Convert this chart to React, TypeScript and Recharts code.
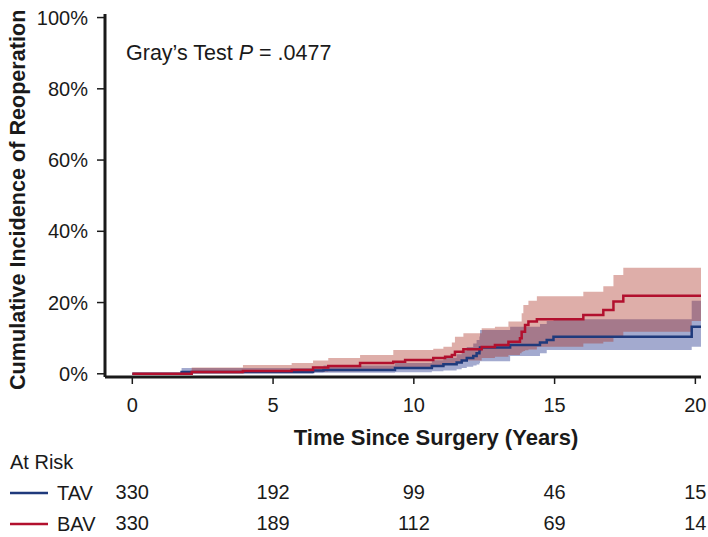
import React from 'react';
import { ComposedChart, Area, Line, XAxis, YAxis } from 'recharts';

// axis ticks
const xTicks = [0, 5, 10, 15, 20];
const yTicks = [0, 20, 40, 60, 80, 100];

// numbers at risk, one per x tick
const tavAtRisk = [330, 192, 99, 46, 15];
const bavAtRisk = [330, 189, 112, 69, 14];

// TAV cumulative incidence (%), step times in years
const tavTime = [0, 1.75, 6.42, 6.79, 9.33, 10.64, 11.05, 11.52, 11.7, 11.88, 12.11, 12.23, 12.33, 12.35, 13.42, 14.48, 14.72, 14.96, 19.87, 20.2];
const tavEst = [0, 0.5, 0.9, 1.1, 1.6, 2.2, 2.7, 3.2, 3.7, 4.4, 5.0, 5.8, 6.7, 7.4, 8.1, 8.8, 9.5, 10.4, 13.2, 13.2];
const tavLow = [0, 0.1, 0.2, 0.3, 0.4, 0.7, 0.9, 1.3, 1.6, 2.0, 2.3, 2.6, 3.0, 3.5, 5.0, 5.8, 6.7, 6.7, 7.6, 7.6];
const tavHigh = [0, 1.6, 2.0, 2.3, 3.0, 3.8, 4.5, 5.5, 6.5, 7.5, 8.5, 9.5, 10.5, 12.3, 13.2, 14.0, 14.8, 15.3, 20.5, 20.5];

// BAV cumulative incidence (%)
const bavTime = [0, 2.11, 3.93, 5.66, 6.42, 6.96, 8.09, 9.27, 9.69, 10.69, 11.05, 11.11, 11.35, 11.46, 11.76, 12.41, 12.88, 13.36, 13.77, 13.83, 13.89, 13.95, 14.07, 14.37, 16.02, 16.73, 17.09, 17.44, 18.6, 19.87, 20.2];
const bavEst = [0, 0.5, 0.8, 1.1, 1.8, 2.2, 3.0, 3.4, 3.9, 4.4, 4.4, 4.8, 5.3, 6.2, 6.9, 7.5, 8.1, 9.0, 10.0, 11.8, 11.8, 13.7, 14.7, 15.3, 16.5, 17.9, 20.3, 21.9, 21.9, 21.9, 21.9];
const bavLow = [0, 0.1, 0.2, 0.3, 0.6, 0.7, 1.0, 1.5, 1.6, 2.0, 2.2, 2.6, 2.9, 3.2, 3.7, 4.4, 4.8, 5.3, 5.8, 6.2, 6.4, 6.6, 6.8, 7.6, 8.5, 9.0, 10.4, 11.8, 11.8, 14.8, 14.8];
const bavHigh = [0, 1.8, 2.5, 3.0, 3.7, 4.4, 5.3, 6.7, 6.7, 7.0, 7.6, 7.6, 8.8, 10.4, 11.4, 12.8, 13.2, 14.7, 14.7, 17.0, 19.3, 19.3, 20.5, 21.8, 23.0, 24.6, 27.7, 29.8, 29.8, 29.8, 29.8];

const tavData = tavTime.map((t, i) => ({ t, est: tavEst[i], ci: [tavLow[i], tavHigh[i]] }));
const bavData = bavTime.map((t, i) => ({ t, est: bavEst[i], ci: [bavLow[i], bavHigh[i]] }));

const FONT = '"Liberation Sans", Arial, Helvetica, sans-serif';
const INK = '#1a1a1a';
const BLUE = '#1f3a7c';
const RED = '#b2102e';
const xDomain = [-0.97, 20.2];
const yDomain = [-0.9, 101];

const tickStyle = { fill: INK, fontSize: 20, fontFamily: FONT };

// legend swatch + group name on the left of each at-risk row
const atRiskLabel = (name: string, color: string, lineY: number, showTitle: boolean) => () => (
  <g>
    {showTitle && (
      <text x={10} y={469} fontSize={20} fontFamily={FONT} fill={INK}>At Risk</text>
    )}
    <line x1={10} x2={48} y1={lineY} y2={lineY} stroke={color} strokeWidth={2.5} />
    <text x={57} y={lineY + 7} fontSize={20} fontFamily={FONT} fill={INK}>{name}</text>
  </g>
);

export default function App() {
  return (
    <div style={{ position: 'absolute', left: 0, top: 0, background: '#fff' }}>
      <ComposedChart width={708} height={537} margin={{ top: 14, right: 7, left: 0, bottom: 12 }}>
        <XAxis
          type="number"
          dataKey="t"
          domain={xDomain}
          allowDataOverflow
          ticks={xTicks}
          interval={0}
          tick={tickStyle}
          tickSize={7}
          tickMargin={14}
          height={70}
          axisLine={{ stroke: INK, strokeWidth: 3 }}
          tickLine={{ stroke: INK, strokeWidth: 1.5 }}
          label={() => (
            <text x={436} y={445} textAnchor="middle" fontSize={22} fontWeight="bold" fontFamily={FONT} fill={INK}>
              Time Since Surgery (Years)
            </text>
          )}
        />
        <XAxis
          xAxisId="r1"
          type="number"
          dataKey="t"
          domain={xDomain}
          allowDataOverflow
          ticks={xTicks}
          interval={0}
          tick={tickStyle}
          tickFormatter={(v: number) => String(tavAtRisk[xTicks.indexOf(v)])}
          tickSize={0}
          tickMargin={38}
          tickLine={false}
          axisLine={false}
          height={47}
          label={atRiskLabel('TAV', BLUE, 493, true)}
        />
        <XAxis
          xAxisId="r2"
          type="number"
          dataKey="t"
          domain={xDomain}
          allowDataOverflow
          ticks={xTicks}
          interval={0}
          tick={tickStyle}
          tickFormatter={(v: number) => String(bavAtRisk[xTicks.indexOf(v)])}
          tickSize={0}
          tickMargin={22}
          tickLine={false}
          axisLine={false}
          height={31}
          label={atRiskLabel('BAV', RED, 524, false)}
        />
        <XAxis
          xAxisId="top"
          orientation="top"
          type="number"
          dataKey="t"
          domain={xDomain}
          allowDataOverflow
          height={0}
          tick={false}
          tickLine={false}
          axisLine={{ stroke: INK, strokeWidth: 3 }}
        />
        <YAxis
          type="number"
          domain={yDomain}
          allowDataOverflow
          ticks={yTicks}
          interval={0}
          width={105}
          tick={tickStyle}
          tickFormatter={(v: number) => `${v}%`}
          tickSize={8}
          tickMargin={9}
          axisLine={{ stroke: INK, strokeWidth: 3 }}
          tickLine={{ stroke: INK, strokeWidth: 1.5 }}
          label={() => (
            <text
              x={25}
              y={390}
              transform="rotate(-90, 25, 390)"
              textAnchor="start"
              fontSize={21.6}
              fontWeight="bold"
              fontFamily={FONT}
              fill={INK}
            >
              Cumulative Incidence of Reoperation
            </text>
          )}
        />
        <YAxis
          yAxisId="right"
          orientation="right"
          type="number"
          domain={yDomain}
          allowDataOverflow
          width={0}
          tick={false}
          tickLine={false}
          axisLine={{ stroke: INK, strokeWidth: 3 }}
        />
        <Area data={tavData} dataKey="ci" type="stepAfter" fill="#334294" fillOpacity={0.45} stroke="none" isAnimationActive={false} />
        <Area data={bavData} dataKey="ci" type="stepAfter" fill="#a72a1e" fillOpacity={0.38} stroke="none" isAnimationActive={false} />
        <Line data={tavData} dataKey="est" type="stepAfter" stroke={BLUE} strokeWidth={2.5} dot={false} isAnimationActive={false} />
        <Line data={bavData} dataKey="est" type="stepAfter" stroke={RED} strokeWidth={2.5} dot={false} isAnimationActive={false} />
        {/* invisible series so the at-risk rows and the frame axes get drawn */}
        <Line data={tavData} xAxisId="r1" dataKey="est" stroke="none" dot={false} activeDot={false} isAnimationActive={false} />
        <Line data={bavData} xAxisId="r2" dataKey="est" stroke="none" dot={false} activeDot={false} isAnimationActive={false} />
        <Line data={bavData} xAxisId="top" yAxisId="right" dataKey="est" stroke="none" dot={false} activeDot={false} isAnimationActive={false} />
        <text x={126} y={60} fontSize={21.5} fontFamily={FONT} fill={INK}>
          Gray’s Test <tspan fontStyle="italic">P</tspan> = .0477
        </text>
      </ComposedChart>
    </div>
  );
}
